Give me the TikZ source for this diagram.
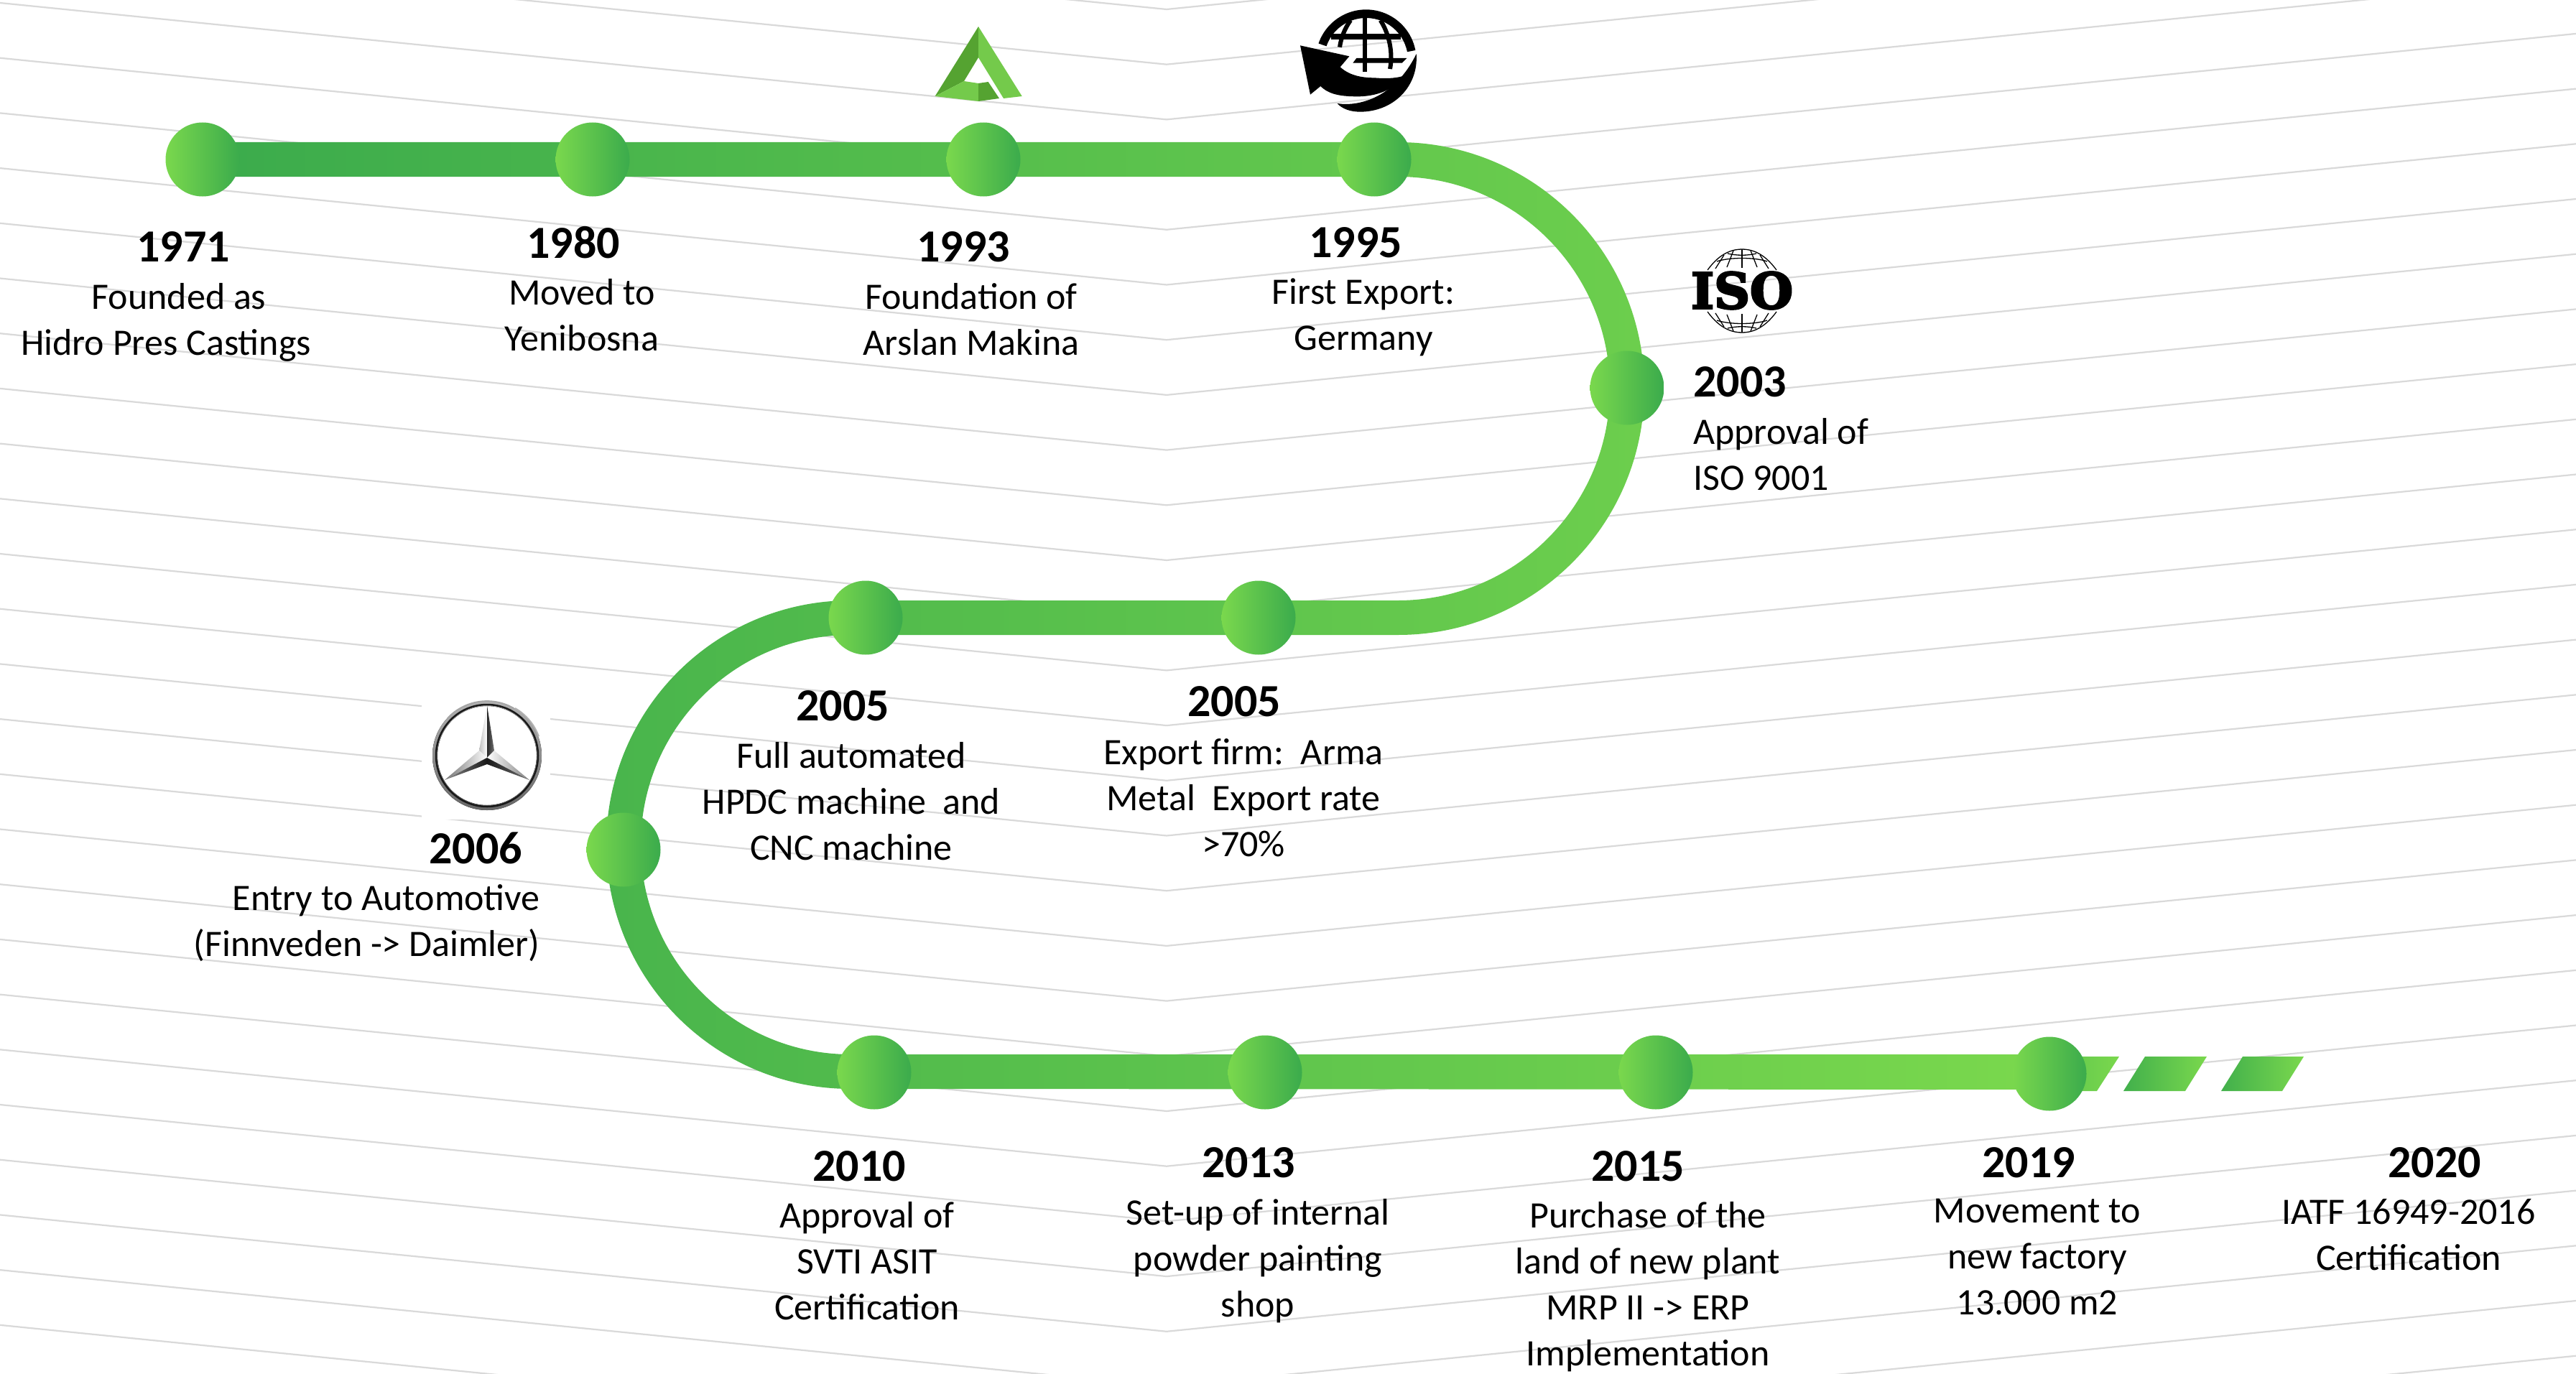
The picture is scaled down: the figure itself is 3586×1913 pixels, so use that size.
\documentclass[tikz,border=0pt]{standalone}
\usepackage{fontspec}
\usepackage{graphicx}
\setmainfont{Carlito}
\newfontfamily\isofont{DejaVu Serif}[FakeBold=4]
\usetikzlibrary{calc}
\definecolor{lightg}{HTML}{7AD84D}
\definecolor{darkg}{HTML}{3BAB4C}
\definecolor{gridg}{HTML}{D9D9D9}
\definecolor{logod}{HTML}{55A331}
\definecolor{logol}{HTML}{74CA4B}
\pgfdeclarelayer{bg}
\pgfdeclarelayer{band}
\pgfsetlayers{bg,band,main}
\tikzset{
  dot/.style={circle,minimum size=103pt,inner sep=0pt,left color=lightg,right color=darkg},
  year/.style={inner sep=0pt,font=\fontsize{64}{70}\selectfont\bfseries},
  body/.style={inner sep=0pt,anchor=north,align=center,font=\fontsize{52}{64}\selectfont,
    execute at begin node={\rule{0pt}{40pt}}},
  grid line/.style={draw=gridg,line width=2.2pt},
  dash piece/.style={left color=darkg!90!lightg,right color=lightg},
  isoline/.style={line width=1.3pt,black},
}
\begin{document}
\begin{tikzpicture}[x=1pt,y=1pt]
\useasboundingbox (0,0) rectangle (3586,-1913);
% background chevrons
\begin{pgfonlayer}{bg}
\fill[white] (0,0) rectangle (3586,-1913);
\begin{scope}
\clip (0,0) rectangle (3586,-1913);
\foreach \k in {0,...,27}{
  \pgfmathsetmacro{\ay}{13+76.7*\k}
  \draw[grid line] (0,-\ay+162.4) -- (1624,-\ay) -- (3586,-\ay+196.2);
}
\end{scope}
\fill[white] (587,-940) rectangle (766,-1141);
\end{pgfonlayer}
% milestones
\foreach \n/\x/\y in {1971/282/222,1980/825/222,1993/1369/222,1995/1913/222,2003/2265/540,
  2005b/1752/860,2005a/1205/860,2006/868/1183,2010/1217/1493,2013/1761/1493,2015/2305/1493,2019/2853/1495}{
  \node[dot] (n\n) at (\x,-\y) {};
}
\coordinate (ra) at (1946,-541);
\coordinate (la) at (1184,-1176);
% ribbon through the milestones
\begin{pgfonlayer}{band}
\shade[left color=darkg,right color=lightg]
  ($(n1971.center)+(0,24)$) -- ($(ra)+(0,343)$) arc[start angle=90,end angle=-90,radius=343]
  -- ($(la)+(0,292)$) arc[start angle=90,end angle=270,radius=292]
  -- ($(n2019.center)+(0,27)$) -- ($(n2019.center)+(0,-22)$) -- ($(la)+(0,-340)$)
  arc[start angle=270,end angle=90,radius=340]
  -- ($(ra)+(0,-295)$) arc[start angle=-90,end angle=90,radius=295]
  -- ($(n1971.center)+(0,-24)$) -- cycle;
\shade[left color=darkg!45!lightg,right color=lightg]
  (n2019.center |- 0,-1471) -- (2950,-1471) -- (2919,-1519) -- (n2019.center |- 0,-1519) -- cycle;
\end{pgfonlayer}
\shade[dash piece] (2986,-1471) -- (3072,-1471) -- (3042,-1519) -- (2956,-1519) -- cycle;
\shade[dash piece] (3122,-1471) -- (3207,-1471) -- (3177,-1519) -- (3092,-1519) -- cycle;
% labels
\node[year] (y1971) at (255,-344) {1971};
\node[body] (t1971) at (231,-394) {\hspace*{36pt}Founded as\\Hidro Pres Castings};
\node[year] (y1980) at (798,-338) {1980};
\node[body] (t1980) at (810,-388) {Moved to\\Yenibosna};
\node[year] (y1993) at (1341,-344) {1993};
\node[body] (t1993) at (1352,-394) {Foundation of\\Arslan Makina};
\node[year] (y1995) at (1887,-338) {1995};
\node[body] (t1995) at (1898,-388) {First Export:\\Germany};
\node[year,anchor=west] (y2003) at (2357,-532) {2003};
\node[body,anchor=north west,align=left] (t2003) at (2357,-582) {Approval of\\ISO 9001};
\node[year] (y2005a) at (1173,-983) {2005};
\node[body] (t2005a) at (1185,-1033) {Full automated\\HPDC machine\ \ and\\CNC machine};
\node[year] (y2005b) at (1718,-977) {2005};
\node[body] (t2005b) at (1731,-1028) {Export firm:\ \ Arma\\Metal\ \ Export rate\\>70\%};
\node[year] (y2006) at (662,-1181) {2006};
\node[body,anchor=north east,align=right] (t2006) at (752,-1231) {Entry to Automotive\\(Finnveden -> Daimler)};
\node[year] (y2010) at (1196,-1624) {2010};
\node[body] (t2010) at (1207,-1673) {Approval of\\SVTI ASIT\\Certification};
\node[year] (y2013) at (1738,-1619) {2013};
\node[body] (t2013) at (1751,-1669) {Set-up of internal\\powder painting\\shop};
\node[year] (y2015) at (2280,-1624) {2015};
\node[body] (t2015) at (2294,-1673) {Purchase of the\\land of new plant\\MRP II -> ERP\\Implementation};
\node[year] (y2019) at (2824,-1619) {2019};
\node[body] (t2019) at (2836,-1669) {Movement to\\new factory\\13.000 m2};
\node[year] (y2020) at (3389,-1619) {2020};
\node[body] (t2020) at (3353,-1669) {IATF 16949-2016\\Certification};
% Arslan logo
\fill[logod] (1362,-37) -- (1362,-80) -- (1342,-113) -- (1301.6,-134) -- cycle;
\fill[logol] (1362,-37) -- (1422.7,-134) -- (1397,-137) -- (1362,-80) -- cycle;
\fill[logol] (1301.6,-134) -- (1342,-113) -- (1362,-116) -- (1362,-141) -- cycle;
\fill[logod] (1362,-116) -- (1375.7,-114) -- (1391,-137) -- (1362,-141) -- cycle;
% export globe
\begin{scope}[shift={(1800,0)},xscale=1/3,yscale=-1/3]
\fill[black] ($(305,250)+(199:210)$) arc[start angle=199,end angle=349,radius=210]
  -- ($(305,250)+(349:175)$) arc[start angle=349,end angle=199,radius=175] -- cycle;
\fill[black] (160,140) rectangle (450,165);
\fill[black] (265,243) -- (475,243) -- (455,263) -- (250,263) -- cycle;
\fill[black] (290,75) rectangle (310,300);
\draw[black,line width=6pt] (240,85) .. controls (215,120) and (200,160) .. (195,197);
\draw[black,line width=6pt] (365,85) .. controls (395,130) and (420,210) .. (405,288);
\fill[black] (30,190) -- (235,235) -- (197,280)
  .. controls (240,320) and (300,325) .. (340,325) .. controls (400,330) and (440,325) .. (468,315)
  .. controls (420,380) and (340,403) .. (270,403) .. controls (200,403) and (150,395) .. (115,360)
  -- (72,395) -- cycle;
\fill[black] (185,432) .. controls (260,445) and (420,420) .. (515,225)
  .. controls (525,360) and (420,467) .. (280,467) .. controls (240,467) and (205,455) .. (185,432) -- cycle;
\end{scope}
% ISO logo
\node[inner sep=0pt] (isotext) at (2425,-404.5) {\resizebox{142pt}{51pt}{\isofont\bfseries ISO}};
\foreach \sy/\oy in {1/405,-1/405}{
\begin{scope}[shift={(2425,-405)},yscale=\sy]
  \draw[isoline] (-48,29) .. controls (-30,54) and (-12,58) .. (0,58) .. controls (12,58) and (30,54) .. (48,29);
  \draw[isoline] (-35,41) .. controls (-18,47) and (18,47) .. (35,41);
  \draw[isoline] (-20,52) .. controls (-8,49) and (8,49) .. (20,52);
  \draw[isoline] (0,58) -- (0,32);
  \draw[isoline] (-12,56) -- (-21,33);
  \draw[isoline] (12,56) -- (21,33);
  \draw[isoline] (-25,50) -- (-37,31);
  \draw[isoline] (25,50) -- (37,31);
\end{scope}
}
% Mercedes star
\fill[even odd rule,top color=black!30,bottom color=black!60]
  (678,-1052) circle[radius=76] (678,-1052) circle[radius=69];
\draw[black!90,line width=2.5pt] (678,-1052) circle[radius=71];
\draw[black!35,line width=2pt] (623,-1000) arc[start angle=137,end angle=60,radius=75];
\draw[black!30,line width=2pt] (717,-986) arc[start angle=60,end angle=20,radius=75];
\shade[left color=black!25,right color=white] (678,-982) -- (667,-1045) -- (678,-1055) -- cycle;
\shade[left color=black!85,right color=black!55] (678,-982) -- (688,-1045) -- (678,-1055) -- cycle;
\shade[left color=black!55,right color=white] (619,-1086) -- (667,-1045) -- (678,-1055) -- cycle;
\shade[left color=black!45,right color=black!90] (619,-1086) -- (678,-1064) -- (678,-1055) -- cycle;
\shade[left color=white,right color=black!50] (737,-1086) -- (688,-1045) -- (678,-1055) -- cycle;
\shade[left color=black!90,right color=black!55] (737,-1086) -- (678,-1064) -- (678,-1055) -- cycle;
\end{tikzpicture}
\end{document}
